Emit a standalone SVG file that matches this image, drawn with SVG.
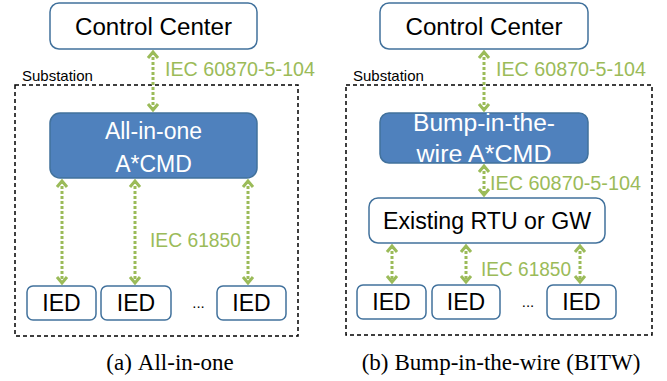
<svg xmlns="http://www.w3.org/2000/svg" width="667" height="381" viewBox="0 0 667 381">
<style>
.box{fill:#fff;stroke:#41719c;stroke-width:1.5}
.dark{fill:#4f81bd;stroke:#41719c;stroke-width:1.5}
.sub{fill:none;stroke:#000;stroke-width:1.5;stroke-dasharray:4 3}
.t{font-family:"Liberation Sans",Arial,sans-serif;font-size:23px;fill:#000;text-anchor:middle}
.w{fill:#fff}
.g{font-family:"Liberation Sans",Arial,sans-serif;font-size:19.5px;fill:#9bbb59}
.s{font-family:"Liberation Sans",Arial,sans-serif;font-size:15px;fill:#000}
.cap{font-family:"Liberation Serif","Times New Roman",serif;font-size:23px;fill:#000;text-anchor:middle}
.c{fill:none;stroke:#9bbb59;stroke-width:3;stroke-dasharray:3 2;marker-start:url(#ah);marker-end:url(#ah)}
</style>
<defs>
<marker id="ah" markerUnits="userSpaceOnUse" viewBox="-8 -7 10 14" refX="0" refY="0" markerWidth="10" markerHeight="14" orient="auto-start-reverse">
<path d="M -6 -5 L 0 0 L -6 5" fill="none" stroke="#9bbb59" stroke-width="3" stroke-linejoin="miter"/>
</marker>
</defs>

<!-- Left panel -->
<g id="substation-a">
<rect class="sub" x="15" y="85" width="283" height="251"/>
<text class="s" x="22" y="81">Substation</text>
</g>
<g id="cc-a">
<rect class="box" x="50" y="3" width="207" height="46" rx="9"/>
<text class="t" x="153.5" y="35" textLength="157" lengthAdjust="spacingAndGlyphs">Control Center</text>
</g>
<g id="acmd-a">
<rect class="dark" x="50" y="113" width="207" height="65" rx="10"/>
<text class="t w" x="153.5" y="139">All-in-one</text>
<text class="t w" x="153.5" y="172">A*CMD</text>
</g>
<g id="ied-a1"><rect class="box" x="27" y="286" width="69" height="34" rx="6"/><text class="t" x="61.5" y="311">IED</text></g>
<g id="ied-a2"><rect class="box" x="101" y="286" width="70" height="34" rx="6"/><text class="t" x="136" y="311">IED</text></g>
<g id="ied-a3"><rect class="box" x="217" y="286" width="69" height="34" rx="6"/><text class="t" x="251.5" y="311">IED</text></g>
<text class="s" x="198.5" y="308" text-anchor="middle" font-size="12">...</text>
<text class="g" x="165" y="76" textLength="150" lengthAdjust="spacingAndGlyphs">IEC 60870-5-104</text>
<text class="g" x="150" y="247" textLength="91" lengthAdjust="spacingAndGlyphs">IEC 61850</text>
<text class="cap" x="170" y="370">(a)<tspan dx="6">All-in-one</tspan></text>

<!-- Right panel -->
<g id="substation-b">
<rect class="sub" x="346" y="85" width="306" height="250"/>
<text class="s" x="353" y="81">Substation</text>
</g>
<g id="cc-b">
<rect class="box" x="380" y="3" width="208" height="46" rx="9"/>
<text class="t" x="484" y="35" textLength="157" lengthAdjust="spacingAndGlyphs">Control Center</text>
</g>
<g id="acmd-b">
<rect class="dark" x="380" y="113" width="208" height="50" rx="9"/>
<text class="t w" x="484" y="131" textLength="142" lengthAdjust="spacingAndGlyphs">Bump-in-the-</text>
<text class="t w" x="484" y="162" textLength="135" lengthAdjust="spacingAndGlyphs">wire A*CMD</text>
</g>
<g id="rtu-b">
<rect class="box" x="369" y="198" width="236" height="45" rx="9"/>
<text class="t" x="487" y="229" textLength="208" lengthAdjust="spacingAndGlyphs">Existing RTU or GW</text>
</g>
<g id="ied-b1"><rect class="box" x="357" y="285" width="69" height="34" rx="6"/><text class="t" x="391.5" y="310">IED</text></g>
<g id="ied-b2"><rect class="box" x="432" y="285" width="68" height="34" rx="6"/><text class="t" x="466" y="310">IED</text></g>
<g id="ied-b3"><rect class="box" x="547" y="285" width="69" height="34" rx="6"/><text class="t" x="581.5" y="310">IED</text></g>
<text class="s" x="528" y="307" text-anchor="middle" font-size="12">...</text>
<text class="g" x="496" y="76" textLength="150" lengthAdjust="spacingAndGlyphs">IEC 60870-5-104</text>
<text class="g" x="490" y="190" textLength="151" lengthAdjust="spacingAndGlyphs">IEC 60870-5-104</text>
<text class="g" x="481" y="276" textLength="90" lengthAdjust="spacingAndGlyphs">IEC 61850</text>
<text class="cap" x="501" y="370">(b)<tspan dx="6">Bump-in-the-wire (BITW)</tspan></text>

<g id="connectors">
<path class="c" d="M153 52 V110"/>
<path class="c" d="M62 181 V283"/>
<path class="c" d="M135 181 V283"/>
<path class="c" d="M248 181 V283"/>
<path class="c" d="M484 52 V110"/>
<path class="c" d="M484 166 V195"/>
<path class="c" d="M392 246 V282"/>
<path class="c" d="M466 246 V282"/>
<path class="c" d="M580 246 V282"/>
</g>
</svg>
